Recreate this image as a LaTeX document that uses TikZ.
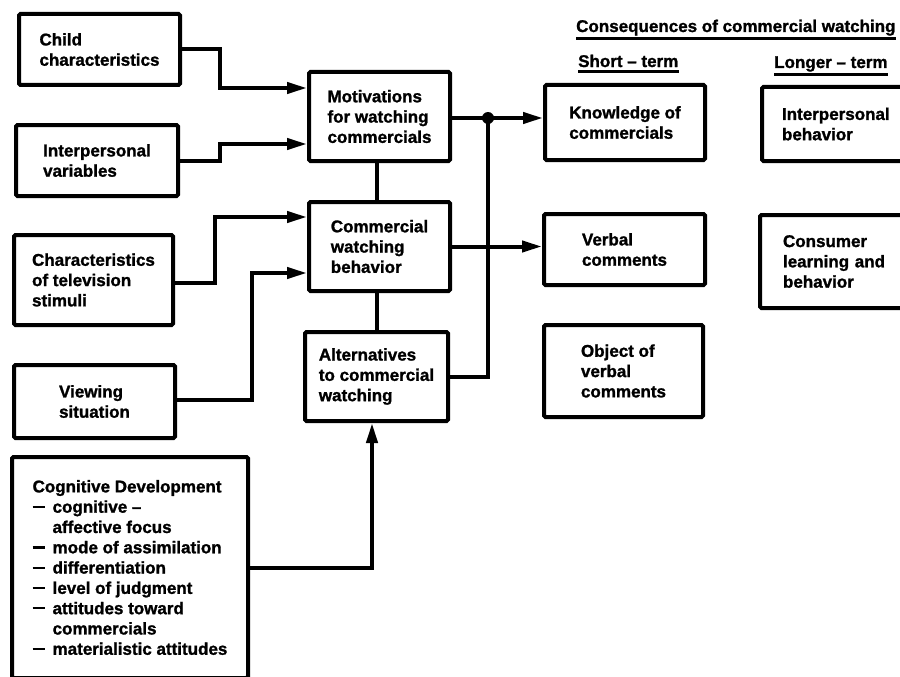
\documentclass[tikz,border=0pt]{standalone}
\usepackage{fontspec}
\setmainfont{Liberation Sans}[BoldFeatures={FakeBold=1.3}]
\usetikzlibrary{arrows.meta,calc}
\newcommand\lbl{\fontsize{17pt}{20.3pt}\selectfont\bfseries}
\newcommand\dsh{\makebox[20pt][l]{\rule[0.28em]{12pt}{2.2pt}}}
\tikzset{
  box/.style={draw, line width=4pt, rounded corners=1.5pt, inner sep=0pt, align=left, font=\lbl},
  conn/.style={line width=4pt},
  arr/.style={conn, -{Triangle[length=20pt,width=11pt]}},
  head/.style={inner sep=0pt, font=\lbl, anchor=base west},
  uline/.style={line width=3pt},
}
\begin{document}
\begin{tikzpicture}[x=1pt,y=-1pt]
\useasboundingbox (0,0) rectangle (900,677);
\clip (0,0) rectangle (900,677);
% left inputs
\node[box, minimum width=161, minimum height=71] (child) at (99.5,49.5) {Child\\characteristics};
\node[box, minimum width=162, minimum height=71] (inter) at (97,160.5) {Interpersonal\\variables};
\node[box, minimum width=159, minimum height=90] (tv) at (93.5,280) {Characteristics\\of television\\stimuli};
\node[box, minimum width=161, minimum height=73] (view) at (94.5,401.5) {Viewing\\situation};
\node[box, minimum width=236, minimum height=221] (cog) at (130,567.5) {Cognitive Development\\
\dsh cognitive --\\
\hspace*{20pt}affective focus\\
\dsh mode of assimilation\\
\dsh differentiation\\
\dsh level of judgment\\
\dsh attitudes toward\\
\hspace*{20pt}commercials\\
\dsh materialistic attitudes};
% middle column
\node[box, minimum width=141, minimum height=89] (motiv) at (379.5,116.5) {Motivations\\for watching\\commercials};
\node[box, minimum width=141, minimum height=89] (comm) at (379.5,246.5) {Commercial\\watching\\behavior};
\node[box, minimum width=143, minimum height=89] (alt) at (376.5,376.5) {Alternatives\\to commercial\\watching};
% consequences
\node[box, minimum width=160, minimum height=75] (know) at (625,122.5) {Knowledge of\\commercials};
\node[box, minimum width=161, minimum height=71] (verbal) at (624.5,249.5) {Verbal\\comments};
\node[box, minimum width=159, minimum height=92] (object) at (623.5,371) {Object of\\verbal\\comments};
\node[box, minimum width=163, minimum height=74, text width=123] (ipb) at (843.5,124) {Interpersonal\\behavior};
\node[box, minimum width=165, minimum height=93, text width=119] (cons) at (842.5,261.5) {Consumer\\learning and\\behavior};
% headings
\node[head] (h1) at (576,32) {Consequences of commercial watching};
\node[head] (h2) at (578,67) {Short -- term};
\node[head] (h3) at (774,68) {Longer -- term};
\draw[uline] ([yshift=-7pt]h1.base west) -- ([yshift=-7pt]h1.base east);
\draw[uline] ([yshift=-5pt]h2.base west) -- ([yshift=-5pt]h2.base east);
\draw[uline] ([yshift=-7pt]h3.base west) -- ([yshift=-7pt]h3.base east);
% connectors
\coordinate (dot) at (488,118);
\draw[arr] (child.east) -- ++(38,0) |- ([yshift=28.5pt]motiv.west);
\draw[arr] (inter.east) -- ++(40,0) |- ([yshift=-27.5pt]motiv.west);
\draw[arr] ([yshift=-3pt]tv.east) -- ++(40,0) |- ([yshift=29.5pt]comm.west);
\draw[arr] ([yshift=1.5pt]view.east) -- ++(75,0) |- ([yshift=-26.5pt]comm.west);
\draw[arr] (cog.east) -| ([xshift=-4.5pt]alt.south);
\draw[conn] (alt.north |- comm.south) -- (alt.north);
\draw[conn] ([xshift=-2.5pt]motiv.south) -- ([xshift=-2.5pt]comm.north);
\draw[conn] (alt.east) -| (dot);
\draw[arr] (motiv.east |- dot) -- (know.west |- dot);
\draw[arr] (comm.east) -- (verbal.west |- comm.east);
\fill (dot) circle (6pt);
\end{tikzpicture}
\end{document}
